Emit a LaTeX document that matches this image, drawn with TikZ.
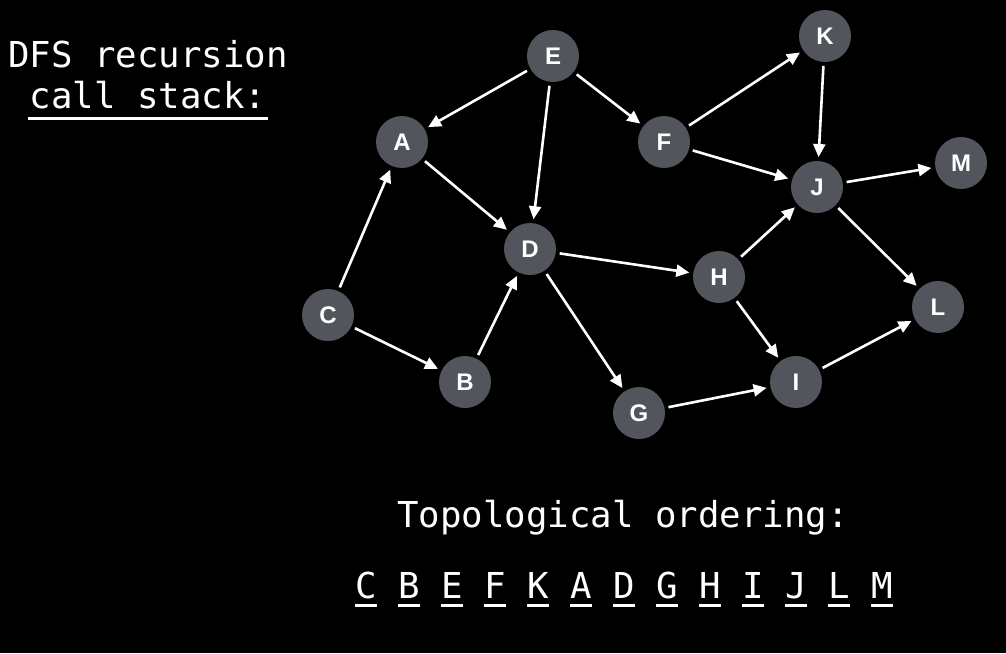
\documentclass[tikz,border=0pt]{standalone}
\usepackage{fontspec}
\setmainfont{Liberation Sans}
\setmonofont{DejaVu Sans Mono}
\usepackage{xcolor}
\usetikzlibrary{arrows.meta,positioning,calc}
\definecolor{vertgray}{HTML}{52555B}
% underline one word with a thick rule
\newcommand{\ulword}[3]{\setbox0=\hbox{#1}\rlap{\copy0}\rule[#2]{\wd0}{#3}}
\tikzset{%
  % classes
  vert/.style={circle, fill=vertgray, minimum size=52pt, inner sep=0pt, outer sep=4pt,
    text=white, font=\fontsize{24}{24}\selectfont\bfseries},
  caption/.style={text=white, anchor=base, inner sep=0pt,
    font=\fontsize{35.7}{36}\selectfont\ttfamily},
  % edge styles
  dep/.style={-{Triangle[length=13pt,width=12pt]}, line width=2.6pt, white},
}

\begin{document}
\begin{tikzpicture}[x=1pt, y=-1pt]
  \fill[black] (0,0) rectangle (1006,653);
  \useasboundingbox (0,0) rectangle (1006,653);

  % vertices
  \node[vert] (E) at (553,56)  {E};
  \node[vert] (K) at (825,36)  {K};
  \node[vert] (A) at (402,142) {A};
  \node[vert] (F) at (664,142) {F};
  \node[vert] (M) at (961,163) {M};
  \node[vert] (J) at (817,187) {J};
  \node[vert] (D) at (530,249) {D};
  \node[vert] (H) at (719,277) {H};
  \node[vert] (C) at (328,315) {C};
  \node[vert] (L) at (938,307) {L};
  \node[vert] (B) at (465,382) {B};
  \node[vert] (I) at (796,382) {I};
  \node[vert] (G) at (639,413) {G};

  % edges
  \foreach \u/\v in {E/A, E/D, E/F, F/K, F/J, K/J, J/M, J/L, A/D,
                     C/A, C/B, B/D, D/H, D/G, H/J, H/I, G/I, I/L}
    \draw[dep] (\u) -- (\v);

  % captions
  \node[caption] (dfs) at (148,67) {DFS recursion};
  \node[caption] (stack) at (148,108) {\ulword{\kern2pt call stack:\kern2pt}{-12pt}{3.5pt}};
  \node[caption] (topo) at (623,527) {Topological ordering:};
  \node[caption] (order) at (624,598)
    {\ulword{C}{-9pt}{3pt} \ulword{B}{-9pt}{3pt} \ulword{E}{-9pt}{3pt}
     \ulword{F}{-9pt}{3pt} \ulword{K}{-9pt}{3pt} \ulword{A}{-9pt}{3pt}
     \ulword{D}{-9pt}{3pt} \ulword{G}{-9pt}{3pt} \ulword{H}{-9pt}{3pt}
     \ulword{I}{-9pt}{3pt} \ulword{J}{-9pt}{3pt} \ulword{L}{-9pt}{3pt}
     \ulword{M}{-9pt}{3pt}};
\end{tikzpicture}
\end{document}
